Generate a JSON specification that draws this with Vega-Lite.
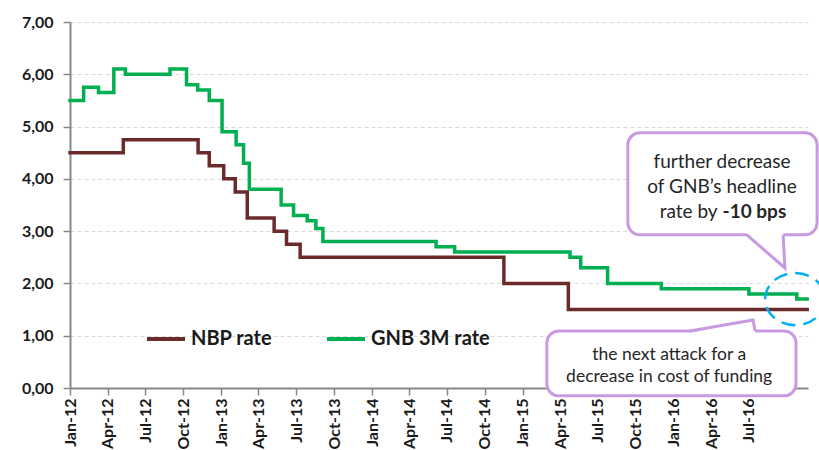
{
  "$schema": "https://vega.github.io/schema/vega-lite/v6.json",
  "width": 738,
  "height": 366,
  "autosize": "none",
  "padding": {"left": 70, "top": 22, "right": 11, "bottom": 62},
  "background": "white",
  "datasets": {
    "rates": [
      {"series": "NBP rate", "date": "2012-01-01", "value": 4.50},
      {"series": "NBP rate", "date": "2012-05-09", "value": 4.75},
      {"series": "NBP rate", "date": "2012-11-06", "value": 4.50},
      {"series": "NBP rate", "date": "2012-12-03", "value": 4.25},
      {"series": "NBP rate", "date": "2013-01-07", "value": 4.00},
      {"series": "NBP rate", "date": "2013-02-04", "value": 3.75},
      {"series": "NBP rate", "date": "2013-03-05", "value": 3.25},
      {"series": "NBP rate", "date": "2013-05-09", "value": 3.00},
      {"series": "NBP rate", "date": "2013-06-08", "value": 2.75},
      {"series": "NBP rate", "date": "2013-07-11", "value": 2.50},
      {"series": "NBP rate", "date": "2014-11-16", "value": 2.00},
      {"series": "NBP rate", "date": "2015-04-21", "value": 1.50},
      {"series": "NBP rate", "date": "2016-11-19", "value": 1.50},
      {"series": "GNB 3M rate", "date": "2012-01-01", "value": 5.50},
      {"series": "GNB 3M rate", "date": "2012-02-03", "value": 5.75},
      {"series": "GNB 3M rate", "date": "2012-03-10", "value": 5.65},
      {"series": "GNB 3M rate", "date": "2012-04-16", "value": 6.10},
      {"series": "GNB 3M rate", "date": "2012-05-14", "value": 6.00},
      {"series": "GNB 3M rate", "date": "2012-08-30", "value": 6.10},
      {"series": "GNB 3M rate", "date": "2012-10-09", "value": 5.80},
      {"series": "GNB 3M rate", "date": "2012-11-05", "value": 5.70},
      {"series": "GNB 3M rate", "date": "2012-12-03", "value": 5.50},
      {"series": "GNB 3M rate", "date": "2013-01-03", "value": 4.90},
      {"series": "GNB 3M rate", "date": "2013-02-06", "value": 4.65},
      {"series": "GNB 3M rate", "date": "2013-02-24", "value": 4.30},
      {"series": "GNB 3M rate", "date": "2013-03-10", "value": 3.80},
      {"series": "GNB 3M rate", "date": "2013-05-26", "value": 3.50},
      {"series": "GNB 3M rate", "date": "2013-06-25", "value": 3.30},
      {"series": "GNB 3M rate", "date": "2013-07-28", "value": 3.20},
      {"series": "GNB 3M rate", "date": "2013-08-18", "value": 3.05},
      {"series": "GNB 3M rate", "date": "2013-09-04", "value": 2.80},
      {"series": "GNB 3M rate", "date": "2014-06-05", "value": 2.70},
      {"series": "GNB 3M rate", "date": "2014-07-20", "value": 2.60},
      {"series": "GNB 3M rate", "date": "2015-04-25", "value": 2.50},
      {"series": "GNB 3M rate", "date": "2015-05-21", "value": 2.30},
      {"series": "GNB 3M rate", "date": "2015-07-25", "value": 2.00},
      {"series": "GNB 3M rate", "date": "2015-12-02", "value": 1.90},
      {"series": "GNB 3M rate", "date": "2016-07-01", "value": 1.80},
      {"series": "GNB 3M rate", "date": "2016-10-25", "value": 1.70},
      {"series": "GNB 3M rate", "date": "2016-11-19", "value": 1.70}
    ],
    "boxes": [
      {"box": "headline", "date": "2015-09-12", "date2": "2016-12-13", "value": 4.88, "value2": 2.93},
      {"box": "funding", "date": "2015-02-28", "date2": "2016-10-23", "value": 1.09, "value2": -0.15}
    ],
    "tailFill": [
      {"box": "headline", "value": 2.97, "date": "2016-06-25", "date2": "2016-09-22"},
      {"box": "headline", "value": 2.295, "date": "2016-09-26", "date2": "2016-09-26"},
      {"box": "funding", "value": 1.05, "date": "2016-02-08", "date2": "2016-07-17"},
      {"box": "funding", "value": 1.30, "date": "2016-07-11", "date2": "2016-07-11"}
    ],
    "tailEdge": [
      {"box": "headline", "step": 1, "date": "2016-06-26", "value": 2.93},
      {"box": "headline", "step": 2, "date": "2016-09-26", "value": 2.295},
      {"box": "headline", "step": 3, "date": "2016-09-22", "value": 2.93},
      {"box": "funding", "step": 1, "date": "2016-02-09", "value": 1.09},
      {"box": "funding", "step": 2, "date": "2016-07-11", "value": 1.30},
      {"box": "funding", "step": 3, "date": "2016-07-16", "value": 1.09}
    ],
    "headlineText": [
      {"text": "further decrease", "date": "2016-04-27", "value": 4.32},
      {"text": "of GNB’s headline", "date": "2016-04-27", "value": 3.84}
    ],
    "headlineLead": [
      {"text": "rate by", "date": "2016-04-21", "value": 3.37}
    ],
    "headlineBold": [
      {"text": "-10 bps", "date": "2016-04-21", "value": 3.37}
    ],
    "fundingText": [
      {"text": "the next attack for a", "date": "2015-12-21", "value": 0.63},
      {"text": "decrease in cost of funding", "date": "2015-12-21", "value": 0.21}
    ],
    "focus": [
      {"date": "2016-10-21", "value": 1.70}
    ]
  },
  "layer": [
    {
      "data": {"name": "rates"},
      "mark": {"type": "line", "interpolate": "step-after", "strokeWidth": 3.5, "strokeCap": "square"},
      "encoding": {
        "x": {
          "field": "date",
          "type": "temporal",
          "title": null,
          "scale": {
            "type": "utc",
            "domain": [
              {"year": 2012, "month": 1, "date": 1, "utc": true},
              {"year": 2016, "month": 11, "date": 21, "utc": true}
            ],
            "nice": false
          },
          "axis": {
            "values": [
              {"year": 2012, "month": 1, "date": 1, "utc": true},
              {"year": 2012, "month": 4, "date": 1, "utc": true},
              {"year": 2012, "month": 7, "date": 1, "utc": true},
              {"year": 2012, "month": 10, "date": 1, "utc": true},
              {"year": 2013, "month": 1, "date": 1, "utc": true},
              {"year": 2013, "month": 4, "date": 1, "utc": true},
              {"year": 2013, "month": 7, "date": 1, "utc": true},
              {"year": 2013, "month": 10, "date": 1, "utc": true},
              {"year": 2014, "month": 1, "date": 1, "utc": true},
              {"year": 2014, "month": 4, "date": 1, "utc": true},
              {"year": 2014, "month": 7, "date": 1, "utc": true},
              {"year": 2014, "month": 10, "date": 1, "utc": true},
              {"year": 2015, "month": 1, "date": 1, "utc": true},
              {"year": 2015, "month": 4, "date": 1, "utc": true},
              {"year": 2015, "month": 7, "date": 1, "utc": true},
              {"year": 2015, "month": 10, "date": 1, "utc": true},
              {"year": 2016, "month": 1, "date": 1, "utc": true},
              {"year": 2016, "month": 4, "date": 1, "utc": true},
              {"year": 2016, "month": 7, "date": 1, "utc": true}
            ],
            "labelExpr": "utcFormat(datum.value, '%b-%y')",
            "labelAngle": -90,
            "labelPadding": 3,
            "labelFont": "Lato",
            "labelFontSize": 16,
            "labelFontWeight": "bold",
            "labelColor": "#1a1a1a",
            "labelOverlap": false,
            "labelFlush": false,
            "grid": false,
            "domainColor": "#888888",
            "domainWidth": 2,
            "tickColor": "#888888",
            "tickWidth": 1.5,
            "tickSize": 7
          }
        },
        "y": {
          "field": "value",
          "type": "quantitative",
          "title": null,
          "scale": {"domain": [0, 7], "nice": false, "zero": false},
          "axis": {
            "values": [0, 1, 2, 3, 4, 5, 6, 7],
            "labelExpr": "replace(format(datum.value, '.2f'), '.', ',')",
            "labelFont": "Lato",
            "labelFontSize": 16,
            "labelFontWeight": "bold",
            "labelColor": "#1a1a1a",
            "labelPadding": 10,
            "grid": true,
            "gridColor": "#d9d9d9",
            "gridDash": [4, 3],
            "gridWidth": 1,
            "domainColor": "#888888",
            "domainWidth": 2,
            "tickColor": "#888888",
            "tickWidth": 1.5,
            "tickSize": 7
          }
        },
        "color": {
          "field": "series",
          "type": "nominal",
          "scale": {"domain": ["NBP rate", "GNB 3M rate"], "range": ["#6b2b2b", "#00b050"]},
          "legend": {
            "orient": "none",
            "legendX": 75,
            "legendY": 296,
            "direction": "horizontal",
            "title": null,
            "symbolType": "stroke",
            "symbolSize": 1444,
            "symbolStrokeWidth": 4,
            "labelFont": "Lato",
            "labelFontSize": 20,
            "labelFontWeight": "bold",
            "labelColor": "#1a1a1a",
            "labelOffset": 4,
            "columnPadding": 46,
            "padding": 0
          }
        }
      }
    },
    {
      "data": {"name": "boxes"},
      "mark": {"type": "rect", "fill": "white", "stroke": "#c99ae2", "strokeWidth": 3, "cornerRadius": 12},
      "encoding": {
        "x": {"field": "date", "type": "temporal", "title": null},
        "x2": {"field": "date2"},
        "y": {"field": "value", "type": "quantitative", "title": null},
        "y2": {"field": "value2"}
      }
    },
    {
      "data": {"name": "tailFill"},
      "mark": {"type": "area", "orient": "horizontal", "fill": "white", "interpolate": "linear"},
      "encoding": {
        "y": {"field": "value", "type": "quantitative", "title": null},
        "x": {"field": "date", "type": "temporal", "title": null},
        "x2": {"field": "date2"},
        "detail": {"field": "box"}
      }
    },
    {
      "data": {"name": "tailEdge"},
      "mark": {"type": "line", "stroke": "#c99ae2", "strokeWidth": 3, "strokeJoin": "miter"},
      "encoding": {
        "x": {"field": "date", "type": "temporal", "title": null},
        "y": {"field": "value", "type": "quantitative", "title": null},
        "detail": {"field": "box"},
        "order": {"field": "step"}
      }
    },
    {
      "data": {"name": "headlineText"},
      "mark": {"type": "text", "font": "Lato", "fontSize": 19, "color": "#262626", "align": "center", "baseline": "middle"},
      "encoding": {
        "x": {"field": "date", "type": "temporal", "title": null},
        "y": {"field": "value", "type": "quantitative", "title": null},
        "text": {"field": "text"}
      }
    },
    {
      "data": {"name": "headlineLead"},
      "mark": {"type": "text", "font": "Lato", "fontSize": 19, "color": "#262626", "align": "right", "baseline": "middle", "dx": -2},
      "encoding": {
        "x": {"field": "date", "type": "temporal", "title": null},
        "y": {"field": "value", "type": "quantitative", "title": null},
        "text": {"field": "text"}
      }
    },
    {
      "data": {"name": "headlineBold"},
      "mark": {"type": "text", "font": "Lato", "fontSize": 19, "fontWeight": "bold", "color": "#262626", "align": "left", "baseline": "middle", "dx": 3},
      "encoding": {
        "x": {"field": "date", "type": "temporal", "title": null},
        "y": {"field": "value", "type": "quantitative", "title": null},
        "text": {"field": "text"}
      }
    },
    {
      "data": {"name": "fundingText"},
      "mark": {"type": "text", "font": "Lato", "fontSize": 17.5, "color": "#262626", "align": "center", "baseline": "middle"},
      "encoding": {
        "x": {"field": "date", "type": "temporal", "title": null},
        "y": {"field": "value", "type": "quantitative", "title": null},
        "text": {"field": "text"}
      }
    },
    {
      "data": {"name": "focus"},
      "mark": {
        "type": "point",
        "shape": "M -1 0 A 1 0.87 0 1 1 1 0 A 1 0.87 0 1 1 -1 0 Z",
        "size": 3600,
        "filled": false,
        "stroke": "#00b0f0",
        "strokeWidth": 2.5,
        "strokeDash": [14, 8],
        "opacity": 1
      },
      "encoding": {
        "x": {"field": "date", "type": "temporal", "title": null},
        "y": {"field": "value", "type": "quantitative", "title": null}
      }
    }
  ],
  "config": {
    "view": {"stroke": null}
  }
}
